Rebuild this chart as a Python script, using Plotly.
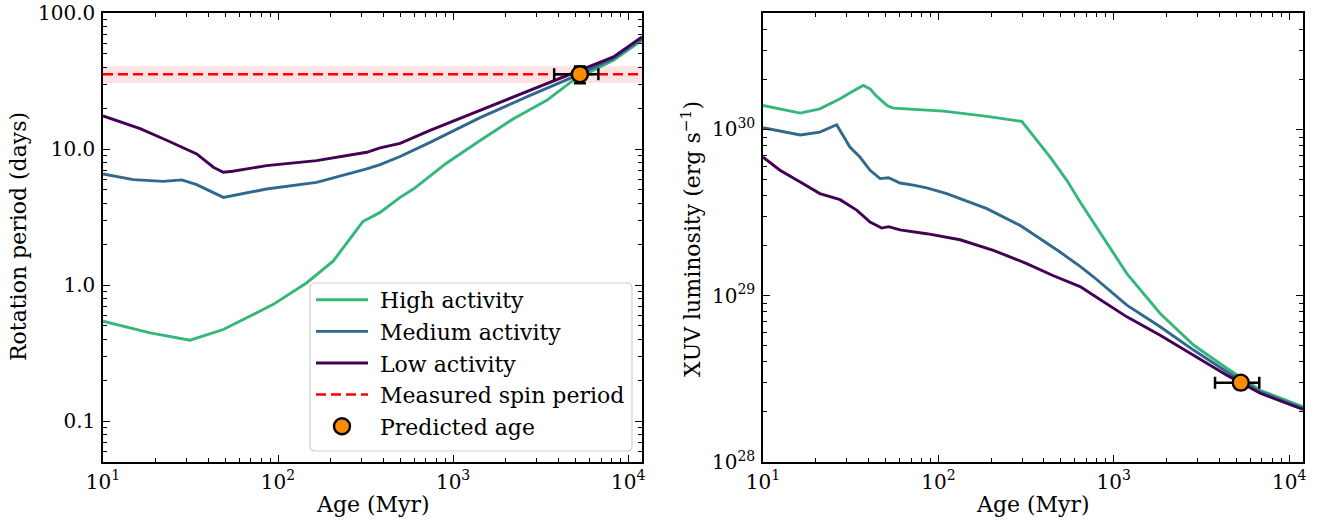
import plotly.graph_objects as go

# ---------------- data: rotation period (left) ----------------
age_rot_high = [10, 18.6, 31.4, 48.7, 94, 146, 207, 305, 383, 498, 593, 920, 1427, 2213, 3430, 4868, 8240, 12000]
per_high = [0.542, 0.445, 0.393, 0.471, 0.721, 1.04, 1.503, 2.93, 3.42, 4.41, 5.08, 7.9, 11.56, 16.7, 22.8, 32.1, 45.0, 63.2]

age_rot_med = [10, 14.9, 22.1, 28.2, 34.3, 48.7, 86, 166, 321, 383, 498, 739, 1427, 2754, 4868, 8240, 12000]
per_med = [6.56, 5.96, 5.78, 5.93, 5.47, 4.41, 5.08, 5.69, 7.14, 7.69, 8.81, 11.2, 17.0, 24.8, 33.9, 46.3, 65.0]

age_rot_low = [10, 16.3, 23.1, 34.3, 42.7, 48.7, 55, 86, 166, 321, 383, 498, 739, 1427, 2754, 4868, 8240, 12000]
per_low = [17.5, 14.1, 11.6, 9.20, 7.35, 6.75, 6.86, 7.55, 8.22, 9.46, 10.2, 11.0, 13.7, 19.2, 27.0, 35.9, 47.6, 66.8]

spin_period = 35.5
spin_band = [30.6, 40.6]

# ---------------- data: XUV luminosity (right) ----------------
age_xuv_high = [10, 16.3, 21.1, 27.5, 32.7, 37.3, 40.8, 44, 48.5, 51, 55.3, 107, 189, 299, 434, 540, 643, 766,
                1000, 1188, 1840, 2850, 4415, 6840, 12000]
lxuv_high = [1.393e30, 1.253e30, 1.330e30, 1.528e30, 1.70e30, 1.837e30, 1.754e30, 1.60e30, 1.459e30, 1.39e30,
             1.343e30, 1.288e30, 1.197e30, 1.117e30, 6.82e29, 4.94e29, 3.66e29, 2.77e29, 1.79e29, 1.358e29,
             7.82e28, 5.05e28, 3.66e28, 2.70e28, 2.15e28]

age_xuv_med = [10, 16.3, 21.1, 26.3, 31.3, 35.7, 40.8, 46.5, 52, 60.4, 72, 85.8, 111.6, 189, 292, 494, 643, 766,
               1188, 1840, 2850, 4415, 6840, 12000]
lxuv_med = [1.023e30, 9.25e29, 9.64e29, 1.067e30, 7.83e29, 6.82e29, 5.68e29, 5.06e29, 5.12e29, 4.76e29, 4.62e29,
            4.45e29, 4.11e29, 3.34e29, 2.65e29, 1.83e29, 1.50e29, 1.30e29, 8.77e28, 6.50e28, 4.71e28, 3.49e28,
            2.64e28, 2.10e28]

age_xuv_low = [10, 12.5, 16.3, 21.1, 27.5, 34.2, 40.8, 47.5, 52, 60.4, 85.8, 133, 206, 319, 453, 643, 766,
               1188, 1840, 2850, 4415, 6840, 12000]
lxuv_low = [6.82e29, 5.68e29, 4.83e29, 4.11e29, 3.78e29, 3.27e29, 2.77e29, 2.55e29, 2.60e29, 2.49e29, 2.36e29,
            2.17e29, 1.875e29, 1.56e29, 1.318e29, 1.135e29, 1.007e29, 7.46e28, 5.79e28, 4.40e28, 3.33e28,
            2.59e28, 2.07e28]

# ---------------- predicted age ----------------
pred_age = [5300]
pred_age_minus = [1520]
pred_age_plus = [1460]
pred_period = [35.5]
pred_period_err = [5.0]
pred_lxuv = [3.0e28]

series_names = ["High activity", "Medium activity", "Low activity"]
colors = ["#35b779", "#31688e", "#440154"]

x_tickvals = [10, 100, 1000, 10000]
x_ticktext = ["10<sup>1</sup>", "10<sup>2</sup>", "10<sup>3</sup>", "10<sup>4</sup>"]
yl_tickvals = [0.1, 1, 10, 100]
yl_ticktext = ["0.1", "1.0", "10.0", "100.0"]
yr_tickvals = [1e28, 1e29, 1e30]
yr_ticktext = ["10<sup>28</sup>", "10<sup>29</sup>", "10<sup>30</sup>"]

FONT = "DejaVu Serif"
W, H = 1326, 522
PAD = "\u2008"  # small gap between legend sample and its text

fig = go.Figure()

rot = [(age_rot_high, per_high), (age_rot_med, per_med), (age_rot_low, per_low)]
xuv = [(age_xuv_high, lxuv_high), (age_xuv_med, lxuv_med), (age_xuv_low, lxuv_low)]

for i, (a, p) in enumerate(rot):
    fig.add_trace(go.Scatter(x=a, y=p, mode="lines", name=PAD + series_names[i],
                             line=dict(color=colors[i], width=2.9),
                             legendgroup=f"g{i}", xaxis="x", yaxis="y"))

fig.add_trace(go.Scatter(x=[10, 12000], y=[spin_period, spin_period], mode="lines",
                         name=PAD + "Measured spin period", legendgroup="g3",
                         line=dict(color="red", width=2.5, dash="10px,5px"),
                         xaxis="x", yaxis="y"))

fig.add_trace(go.Scatter(x=pred_age, y=pred_period, mode="markers", name=PAD + "Predicted age",
                         legendgroup="g4",
                         marker=dict(color="#ff8c00", size=16, line=dict(color="black", width=2.4)),
                         error_x=dict(type="data", symmetric=False, array=pred_age_plus,
                                      arrayminus=pred_age_minus, color="black", thickness=2.5, width=6),
                         error_y=dict(type="data", array=pred_period_err, color="black",
                                      thickness=2.5, width=6),
                         xaxis="x", yaxis="y"))

for i, (a, l) in enumerate(xuv):
    fig.add_trace(go.Scatter(x=a, y=l, mode="lines", name=series_names[i], showlegend=False,
                             line=dict(color=colors[i], width=2.9),
                             xaxis="x2", yaxis="y2"))

fig.add_trace(go.Scatter(x=pred_age, y=pred_lxuv, mode="markers", showlegend=False,
                         marker=dict(color="#ff8c00", size=16, line=dict(color="black", width=2.4)),
                         error_x=dict(type="data", symmetric=False, array=pred_age_plus,
                                      arrayminus=pred_age_minus, color="black", thickness=2.5, width=6),
                         xaxis="x2", yaxis="y2"))

# shaded band for measured period
fig.add_shape(type="rect", xref="x domain", yref="y", x0=0, x1=1,
              y0=spin_band[0], y1=spin_band[1], fillcolor="rgba(255,0,0,0.11)",
              line=dict(width=0), layer="below")

# rounded legend frame (matplotlib-like)
def rounded_rect(x0, y0, x1, y1, r):
    X = lambda v: v / W
    Y = lambda v: 1 - v / H
    return (f"M {X(x0 + r)} {Y(y0)} L {X(x1 - r)} {Y(y0)} Q {X(x1)} {Y(y0)} {X(x1)} {Y(y0 + r)} "
            f"L {X(x1)} {Y(y1 - r)} Q {X(x1)} {Y(y1)} {X(x1 - r)} {Y(y1)} "
            f"L {X(x0 + r)} {Y(y1)} Q {X(x0)} {Y(y1)} {X(x0)} {Y(y1 - r)} "
            f"L {X(x0)} {Y(y0 + r)} Q {X(x0)} {Y(y0)} {X(x0 + r)} {Y(y0)} Z")

fig.add_shape(type="path", xref="paper", yref="paper", path=rounded_rect(310, 283, 632, 451, 5),
              fillcolor="rgba(255,255,255,0.8)", line=dict(color="#d0d0d0", width=1.2), layer="above")

ydom = [1 - 462 / H, 1 - 13 / H]
xdom1 = [103 / W, 642 / W]
xdom2 = [763 / W, 1303 / W]

common = dict(type="log", ticks="inside", ticklen=7, tickwidth=1.3, tickcolor="black",
              showline=True, linecolor="black", linewidth=1.5, mirror="allticks",
              showgrid=False, zeroline=False, automargin=False,
              tickfont=dict(family=FONT, size=20, color="black"),
              minor=dict(ticks="inside", ticklen=4, tickwidth=1, tickcolor="black",
                         dtick="D1", showgrid=False))

def xaxis(dom, anchor):
    return dict(common, domain=dom, anchor=anchor, range=[1, 4.0792],
                tickvals=x_tickvals, ticktext=x_ticktext, ticklabelstandoff=1)

def yaxis(dom, anchor, rng, tv, tt):
    return dict(common, domain=dom, anchor=anchor, range=rng,
                tickvals=tv, ticktext=tt, ticklabelstandoff=2)

fig.update_layout(
    width=W, height=H,
    margin=dict(l=0, r=0, t=0, b=0, autoexpand=False),
    paper_bgcolor="white", plot_bgcolor="white",
    font=dict(family=FONT, size=22, color="black"),
    xaxis=xaxis(xdom1, "y"),
    yaxis=yaxis(ydom, "x", [-1.301, 2], yl_tickvals, yl_ticktext),
    xaxis2=xaxis(xdom2, "y2"),
    yaxis2=yaxis(ydom, "x2", [28, 30.7], yr_tickvals, yr_ticktext),
    showlegend=True,
    legend=dict(x=311 / W, y=1 - 279 / H, xanchor="left", yanchor="top",
                bgcolor="rgba(0,0,0,0)", borderwidth=0,
                font=dict(family=FONT, size=22, color="black"),
                tracegroupgap=5, itemwidth=52, traceorder="normal"),
    annotations=[
        dict(text="Age (Myr)", x=(103 + 642) / 2 / W, y=1 - 504 / H, xref="paper", yref="paper",
             showarrow=False, font=dict(family=FONT, size=22), xanchor="center", yanchor="middle"),
        dict(text="Age (Myr)", x=(763 + 1303) / 2 / W, y=1 - 504 / H, xref="paper", yref="paper",
             showarrow=False, font=dict(family=FONT, size=22), xanchor="center", yanchor="middle"),
        dict(text="Rotation period (days)", x=18 / W, y=1 - 237 / H, xref="paper", yref="paper",
             showarrow=False, textangle=-90, font=dict(family=FONT, size=22),
             xanchor="center", yanchor="middle"),
        dict(text="XUV luminosity (erg s<sup>\u22121</sup>)", x=691 / W, y=1 - 239 / H,
             xref="paper", yref="paper", showarrow=False, textangle=-90,
             font=dict(family=FONT, size=22), xanchor="center", yanchor="middle"),
    ],
)

fig.write_html("out.html", config={"displayModeBar": False},
               post_script="document.body.style.margin='0';document.body.style.overflow='hidden';")
